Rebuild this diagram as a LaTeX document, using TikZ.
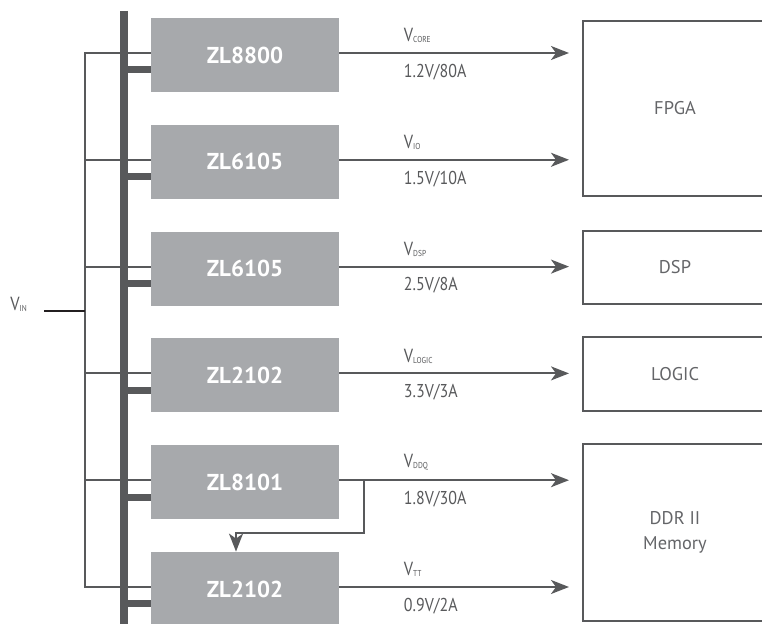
\documentclass[tikz,border=0pt]{standalone}
\usepackage{fontspec}
\setmainfont{PT Sans}
\newfontfamily\condfont{PT Sans}[FakeStretch=0.86]
\usepackage{tikz}
\usetikzlibrary{arrows.meta, positioning}

\definecolor{linegray}{RGB}{88,89,91}
\definecolor{regfill}{RGB}{167,169,172}
\definecolor{loadtxt}{RGB}{100,101,104}
\definecolor{vinblack}{RGB}{35,31,32}

\newcommand{\vsub}[1]{\raisebox{-0.5pt}{\fontsize{4.3}{5}\selectfont #1}}

\begin{document}
\begin{tikzpicture}[
    x=0.5pt, y=-0.5pt,
    reg/.style={
        rectangle, fill=regfill, text=white,
        minimum width=94pt, minimum height=37pt, inner sep=0pt,
        font=\fontsize{11.5}{12}\selectfont\bfseries
    },
    load/.style n args={1}{
        rectangle, draw=linegray, line width=1pt, text=loadtxt,
        minimum width=92pt, minimum height=#1, inner sep=0pt,
        align=center, font=\fontsize{9.2}{12.5}\selectfont
    },
    wire/.style={draw=linegray, line width=1pt},
    pwr/.style={
        wire, -{Stealth[length=9pt,width=7pt,inset=2.5pt]}, shorten >=6.5pt
    },
    fb/.style={
        wire, -{Stealth[length=9pt,width=7pt,inset=2.5pt]}
    },
    bus/.style={draw=linegray, line width=4pt},
    stub/.style={draw=linegray, line width=3.5pt},
    vlab/.style={
        anchor=south west, inner sep=0pt, yshift=4.5pt, text=linegray,
        font=\condfont\fontsize{9.5}{10}\selectfont
    },
    ilab/.style={
        anchor=north west, inner sep=0pt, yshift=-5pt, text=linegray,
        font=\condfont\fontsize{9.3}{10}\selectfont
    },
]

\useasboundingbox (0,0) rectangle (762,624);

% ============================================================
% Regulators
% ============================================================

\node[reg] (r1) at (245,55) {ZL8800\hspace{5pt}};
\node[reg, below=16pt of r1] (r2) {ZL6105\hspace{5pt}};
\node[reg, below=16pt of r2] (r3) {ZL6105\hspace{5pt}};
\node[reg, below=16pt of r3] (r4) {ZL2102\hspace{5pt}};
\node[reg, below=16pt of r4] (r5) {ZL8101\hspace{5pt}};
\node[reg, below=16pt of r5] (r6) {ZL2102\hspace{5pt}};

% ============================================================
% Loads (open at the right edge)
% ============================================================

\node[load={87.5pt}] (fpga)  at (675,108.5) {FPGA};
\node[load={36.5pt}] (dsp)   at (675,267.5) {DSP};
\node[load={37pt}]   (logic) at (675,374)   {LOGIC};
\node[load={88.5pt}] (ddr)   at (675,532.5) {DDR II\\Memory};

% ============================================================
% Input rail and bus
% ============================================================

\coordinate (rail)   at (85,0);
\coordinate (bustop) at (124,11);
\coordinate (busbot) at (124,640);

\coordinate (in1) at ([yshift=1pt]r1.west);
\coordinate (in2) at ([yshift=1pt]r2.west);
\coordinate (in3) at ([yshift=1pt]r3.west);
\coordinate (in4) at ([yshift=1pt]r4.west);
\coordinate (in5) at ([yshift=1pt]r5.west);
\coordinate (in6) at ([yshift=1pt]r6.west);

\draw[wire] (in1) -| (rail |- in6) -- (in6);
\foreach \n in {2,...,5}
    \draw[wire] (rail |- in\n) -- (in\n);

\node[anchor=base west, inner sep=0pt, text=linegray,
      font=\condfont\fontsize{9.5}{10}\selectfont] (vin) at (10,311) {V\vsub{IN}};
\draw[draw=vinblack, line width=1pt]
    ([xshift=8.5pt]vin.base east) -- (vin.base east -| rail);

\draw[bus] (bustop) -- (busbot);
\foreach \n in {1,...,6} {
    \coordinate (st\n) at ([yshift=-7.5pt]r\n.west);
    \draw[stub] (bustop |- st\n) -- (st\n);
}

% ============================================================
% Outputs
% ============================================================

\coordinate (o1) at ([yshift=1pt]r1.east);
\coordinate (o2) at ([yshift=1pt]r2.east);
\coordinate (o3) at ([yshift=1pt]r3.east);
\coordinate (o4) at ([yshift=1pt]r4.east);
\coordinate (o5) at ([yshift=1pt]r5.east);
\coordinate (o6) at ([yshift=1pt]r6.east);

\draw[pwr] (o1) -- (o1 -| fpga.west)
    node[pos=0.262, vlab] {V\vsub{CORE}}
    node[pos=0.262, ilab] {1.2V/80A};
\draw[pwr] (o2) -- (o2 -| fpga.west)
    node[pos=0.262, vlab] {V\vsub{IO}}
    node[pos=0.262, ilab] {1.5V/10A};
\draw[pwr] (o3) -- (o3 -| dsp.west)
    node[pos=0.262, vlab] {V\vsub{DSP}}
    node[pos=0.262, ilab] {2.5V/8A};
\draw[pwr] (o4) -- (o4 -| logic.west)
    node[pos=0.262, vlab] {V\vsub{LOGIC}}
    node[pos=0.262, ilab] {3.3V/3A};
\draw[pwr] (o5) -- (o5 -| ddr.west)
    node[pos=0.262, vlab] {V\vsub{DDQ}}
    node[pos=0.262, ilab] {1.8V/30A};
\draw[pwr] (o6) -- (o6 -| ddr.west)
    node[pos=0.262, vlab] {V\vsub{TT}}
    node[pos=0.262, ilab] {0.9V/2A};

% VDDQ feeds the VTT regulator
\draw[fb] ([xshift=12.5pt]o5) -- ++(0,53) -| ([xshift=-4.5pt]r6.north);

\end{tikzpicture}
\end{document}
